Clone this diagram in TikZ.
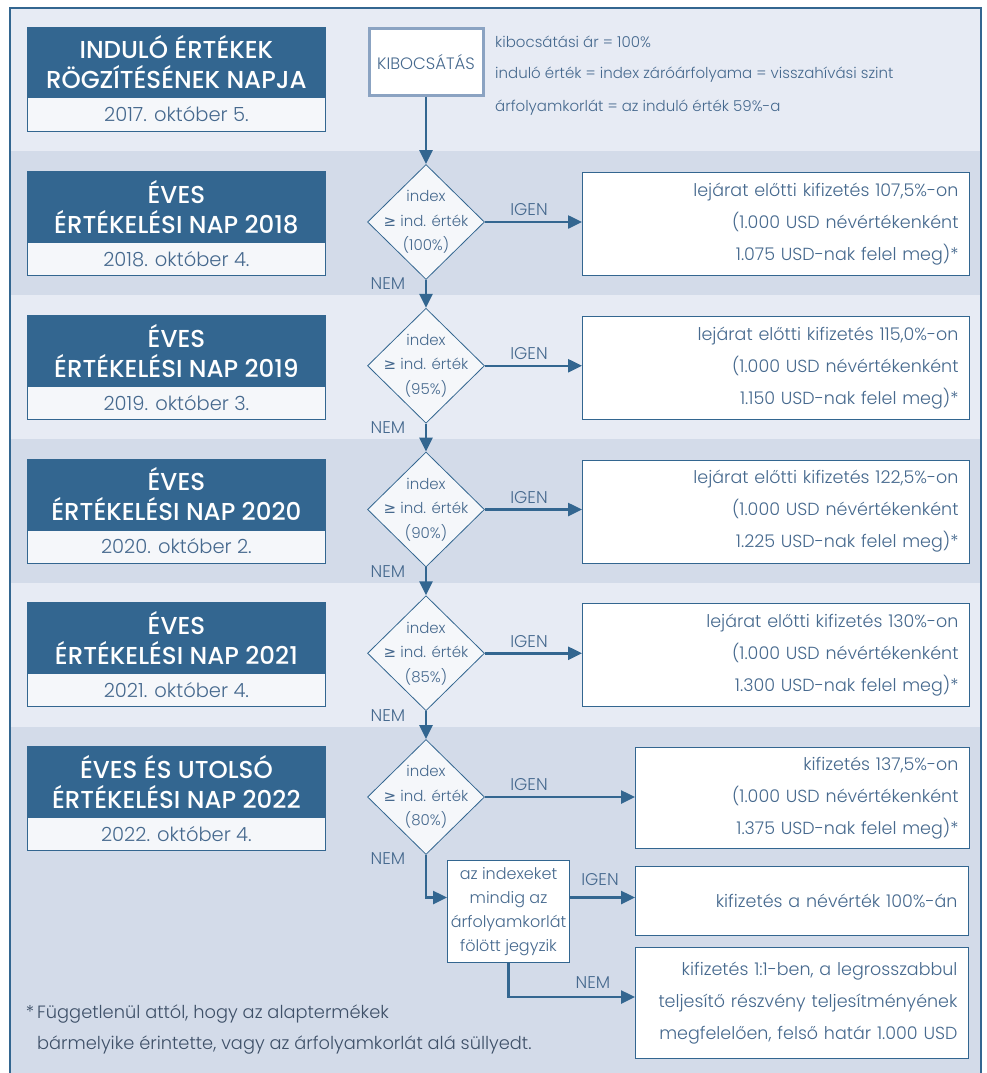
\documentclass[tikz,border=0pt]{standalone}
\usepackage{fontspec}
\usetikzlibrary{shapes.geometric,arrows.meta}
\IfFontExistsTF{Poppins Light}{\setmainfont{Poppins Light}}{\setmainfont{Poppins}}
\IfFontExistsTF{Poppins Medium}{\newfontfamily\headf{Poppins Medium}}{\newfontfamily\headf{Poppins}}
\newfontfamily\symf{DejaVu Sans}
\definecolor{dblue}{HTML}{336690}
\definecolor{tblue}{HTML}{46698E}
\definecolor{bandL}{HTML}{E7EBF4}
\definecolor{bandD}{HTML}{D3DBE9}
\definecolor{datebg}{HTML}{F5F7FA}
\definecolor{kibb}{HTML}{8BA3C2}
\definecolor{foot}{HTML}{3E5068}
\newcommand\leftrow[5]{%
  \node[hdr] (h#1) at (27,#2) {#3};
  \node[datebox] (t#1) at (27,#2+71) {#4};
  \node[dia] (d#1) at (426,#2+51) {};
  \node[diatxt] (q#1) at (d#1.center) {index\\{\symf ≥} ind. érték\\(#5\%)};
  \node[lbl] (n#1) at (388,#2+113) {NEM};
  \node[lbl] (g#1) at (529,#2+39) {IGEN};
}
\begin{document}
\begin{tikzpicture}[x=1pt,y=-1pt,
  hdr/.style={fill=dblue,draw=dblue,line width=0.8pt,text=white,align=center,minimum width=298pt,minimum height=71pt,inner sep=0pt,anchor=north west,font=\headf\fontsize{24.5}{30}\selectfont},
  datebox/.style={fill=datebg,draw=dblue,line width=0.8pt,text=tblue,minimum width=298pt,minimum height=33pt,inner sep=0pt,anchor=north west,font=\fontsize{19.5}{20}\selectfont},
  dia/.style={diamond,draw=dblue,line width=0.8pt,fill=datebg,minimum width=117pt,minimum height=115pt,inner sep=0pt},
  diatxt/.style={align=center,text=tblue,font=\fontsize{15}{24.5}\selectfont,inner sep=0pt},
  resbox/.style={draw=dblue,line width=1pt,fill=white,align=right,text=tblue,anchor=north west,inner xsep=11pt,inner ysep=0pt,font=\fontsize{17.5}{32}\selectfont},
  lbl/.style={text=tblue,font=\fontsize{17}{18}\selectfont,inner sep=0pt},
  arr/.style={draw=dblue,line width=2.5pt,-{Triangle[length=14pt,width=13pt]}},
  rtxt/.style={text=tblue,anchor=west,inner sep=0pt,font=\fontsize{15}{16}\selectfont},
]
\useasboundingbox (0,0) rectangle (987,1073);
% bands
\fill[bandL] (10,8) rectangle (981,151);
\fill[bandD] (10,151) rectangle (981,295);
\fill[bandL] (10,295) rectangle (981,439);
\fill[bandD] (10,439) rectangle (981,583);
\fill[bandL] (10,583) rectangle (981,727);
\fill[bandD] (10,727) rectangle (981,1085);
\draw[dblue,line width=1.5pt] (10,8) rectangle (981,1085);
% top row
\node[hdr,minimum height=70pt] (h0) at (27,27) {INDULÓ ÉRTÉKEK\\RÖGZÍTÉSÉNEK NAPJA};
\node[datebox,minimum height=34pt] (t0) at (27,97) {2017. október 5.};
\node[draw=kibb,line width=3pt,fill=white,text=tblue,minimum width=114pt,minimum height=66pt,inner sep=0pt,font=\fontsize{16.5}{18}\selectfont] (kib) at (426,62) {KIBOCSÁTÁS};
\node[rtxt] (i1) at (495,42) {kibocsátási ár = 100\%};
\node[rtxt] (i2) at (495,75) {induló érték = index záróárfolyama = visszahívási szint};
\node[rtxt] (i3) at (495,108) {árfolyamkorlát = az induló érték 59\%-a};
% rows
\leftrow{1}{171}{ÉVES\\ÉRTÉKELÉSI NAP 2018}{2018. október 4.}{100}
\leftrow{2}{314.75}{ÉVES\\ÉRTÉKELÉSI NAP 2019}{2019. október 3.}{95}
\leftrow{3}{458.5}{ÉVES\\ÉRTÉKELÉSI NAP 2020}{2020. október 2.}{90}
\leftrow{4}{602.25}{ÉVES\\ÉRTÉKELÉSI NAP 2021}{2021. október 4.}{85}
\leftrow{5}{746}{ÉVES ÉS UTOLSÓ\\ÉRTÉKELÉSI NAP 2022}{2022. október 4.}{80}
% result boxes
\node[resbox,text width=365pt,minimum height=103pt] (r1) at (582,172) {lejárat előtti kifizetés 107,5\%-on\\(1.000 USD névértékenként\\1.075 USD-nak felel meg)*};
\node[resbox,text width=365pt,minimum height=103pt] (r2) at (582,315.75) {lejárat előtti kifizetés 115,0\%-on\\(1.000 USD névértékenként\\1.150 USD-nak felel meg)*};
\node[resbox,text width=365pt,minimum height=103pt] (r3) at (582,459.5) {lejárat előtti kifizetés 122,5\%-on\\(1.000 USD névértékenként\\1.225 USD-nak felel meg)*};
\node[resbox,text width=365pt,minimum height=103pt] (r4) at (582,603.25) {lejárat előtti kifizetés 130\%-on\\(1.000 USD névértékenként\\1.300 USD-nak felel meg)*};
\node[resbox,text width=312pt,minimum height=101pt] (r5) at (635,747) {kifizetés 137,5\%-on\\(1.000 USD névértékenként\\1.375 USD-nak felel meg)*};
\node[draw=dblue,line width=1pt,fill=white,text=tblue,align=center,minimum width=122pt,minimum height=102pt,inner sep=0pt,anchor=north west,font=\fontsize{16}{24}\selectfont] (mid) at (447,860) {az indexeket\\mindig az\\árfolyamkorlát\\fölött jegyzik};
\node[resbox,text width=311pt,minimum height=69pt] (p100) at (635,866) {kifizetés a névérték 100\%-án};
\node[resbox,text width=311pt,minimum height=111pt] (p11) at (635,947) {kifizetés 1:1-ben, a legrosszabbul\\teljesítő részvény teljesítményének\\megfelelően, felső határ 1.000 USD};
% labels for last step
\node[lbl] (g6) at (600,880) {IGEN};
\node[lbl] (n6) at (593,983) {NEM};
% connectors
\draw[arr] (kib.south) -- (d1.north);
\draw[arr] (d1.south) -- (d2.north);
\draw[arr] (d2.south) -- (d3.north);
\draw[arr] (d3.south) -- (d4.north);
\draw[arr] (d4.south) -- (d5.north);
\draw[arr] (d1.east) -- (d1.east -| r1.west);
\draw[arr] (d2.east) -- (d2.east -| r2.west);
\draw[arr] (d3.east) -- (d3.east -| r3.west);
\draw[arr] (d4.east) -- (d4.east -| r4.west);
\draw[arr] (d5.east) -- (d5.east -| r5.west);
\draw[arr] (d5.south) |- ([yshift=14pt]mid.west);
\draw[arr] ([yshift=14pt]mid.east) -- ([yshift=14pt]mid.east -| p100.west);
\draw[arr] (mid.south) |- ([yshift=6pt]p11.west);
% footnote
\node[text=foot,anchor=north west,align=left,inner sep=0pt,font=\fontsize{17.8}{31}\selectfont] (fn) at (37,1004) {\llap{*\,}Függetlenül attól, hogy az alaptermékek\\bármelyike érintette, vagy az árfolyamkorlát alá süllyedt.};
\end{tikzpicture}
\end{document}
